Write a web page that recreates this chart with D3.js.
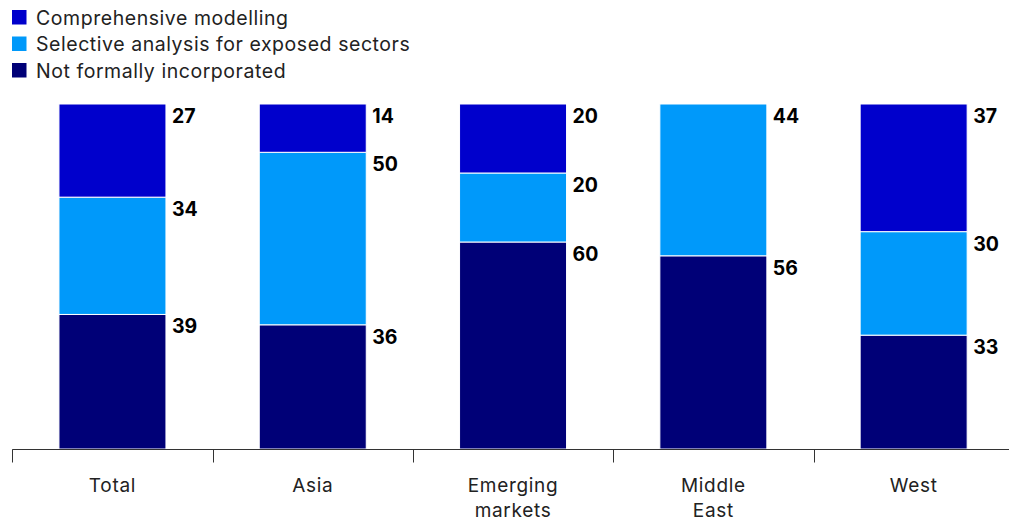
<html>
<head>
<meta charset="utf-8">
<title>Stacked bars</title>
<style>
  body { margin: 0; background: #fff; }
  svg text { font-family: Inter, "Noto Sans", sans-serif; }
</style>
<script src="https://cdn.jsdelivr.net/npm/d3@7"></script>
</head>
<body>
<svg id="chart" width="1009" height="520"></svg>
<script>
// data
var categories = ["Total", "Asia", "Emerging\nmarkets", "Middle\nEast", "West"];
var seriesNames = ["Comprehensive modelling", "Selective analysis for exposed sectors", "Not formally incorporated"];
var comprehensive = [27, 14, 20, 0, 37];
var selective = [34, 50, 20, 44, 30];
var notFormal = [39, 36, 60, 56, 33];
var colors = ["#0000cc", "#0099fa", "#000077"];

var svg = d3.select("#chart");

var x = d3.scaleBand()
  .domain(categories)
  .range([12.3, 12.3 + 200.3 * 5])
  .paddingInner(0)
  .paddingOuter(0);

var y = d3.scaleLinear()
  .domain([0, 100])
  .range([449, 104]);

var barW = 107;

// table for the stack: bottom is "not formally", top is "comprehensive"
var rows = categories.map(function(c, i) {
  return { cat: c, notFormal: notFormal[i], selective: selective[i], comprehensive: comprehensive[i] };
});
var keys = ["notFormal", "selective", "comprehensive"];
var keyColor = { notFormal: colors[2], selective: colors[1], comprehensive: colors[0] };
var stack = d3.stack().keys(keys)(rows);

var g = svg.append("g");

stack.forEach(function(layer) {
  g.selectAll(".seg-" + layer.key)
    .data(layer.filter(function(d) { return d[1] - d[0] > 0; }))
    .enter()
    .append("rect")
    .attr("x", function(d) { return x(d.data.cat) + (x.bandwidth() - barW) / 2; })
    .attr("y", function(d) { return y(d[1]); })
    .attr("width", barW)
    .attr("height", function(d) { return y(d[0]) - y(d[1]); })
    .attr("fill", keyColor[layer.key])
    .attr("stroke", "#fff")
    .attr("stroke-width", 1);

  g.selectAll(".lab-" + layer.key)
    .data(layer.filter(function(d) { return d[1] - d[0] > 0; }))
    .enter()
    .append("text")
    .attr("x", function(d) { return x(d.data.cat) + (x.bandwidth() + barW) / 2 + 6; })
    .attr("y", function(d) { return y(d[1]) + 19; })
    .attr("font-size", 19.5)
    .attr("font-weight", 700)
    .attr("fill", "#000")
    .text(function(d) { return d[1] - d[0]; });
});

// axis
var axis = svg.append("g").attr("transform", "translate(0,449.5)");
axis.append("line")
  .attr("x1", x.range()[0]).attr("x2", x.range()[1])
  .attr("stroke", "#333").attr("stroke-width", 1);
axis.selectAll(".tick")
  .data(categories)
  .enter()
  .append("line")
  .attr("x1", function(d) { return Math.round(x(d)) + 0.5; })
  .attr("x2", function(d) { return Math.round(x(d)) + 0.5; })
  .attr("y1", 0).attr("y2", 13)
  .attr("stroke", "#333");

var lab = axis.selectAll(".xlab")
  .data(categories)
  .enter()
  .append("text")
  .attr("text-anchor", "middle")
  .attr("font-size", 19)
  .attr("letter-spacing", "0.7px")
  .attr("fill", "#222")
  .attr("transform", function(d) { return "translate(" + (x(d) + x.bandwidth() / 2) + ",42)"; });
lab.selectAll("tspan")
  .data(function(d) { return d.split("\n"); })
  .enter()
  .append("tspan")
  .attr("x", 0)
  .attr("dy", function(d, i) { return i === 0 ? 0 : 25.5; })
  .text(function(d) { return d; });

// legend
var leg = svg.append("g").attr("transform", "translate(12,10)");
var item = leg.selectAll(".item")
  .data(seriesNames)
  .enter()
  .append("g")
  .attr("transform", function(d, i) { return "translate(0," + (i * 26.5) + ")"; });
item.append("rect")
  .attr("width", 14.5).attr("height", 14.5)
  .attr("fill", function(d, i) { return colors[i]; });
item.append("text")
  .attr("x", 24).attr("y", 14.5)
  .attr("font-size", 19.5)
  .attr("letter-spacing", "0.55px")
  .attr("fill", "#222")
  .text(function(d) { return d; });
</script>
</body>
</html>
